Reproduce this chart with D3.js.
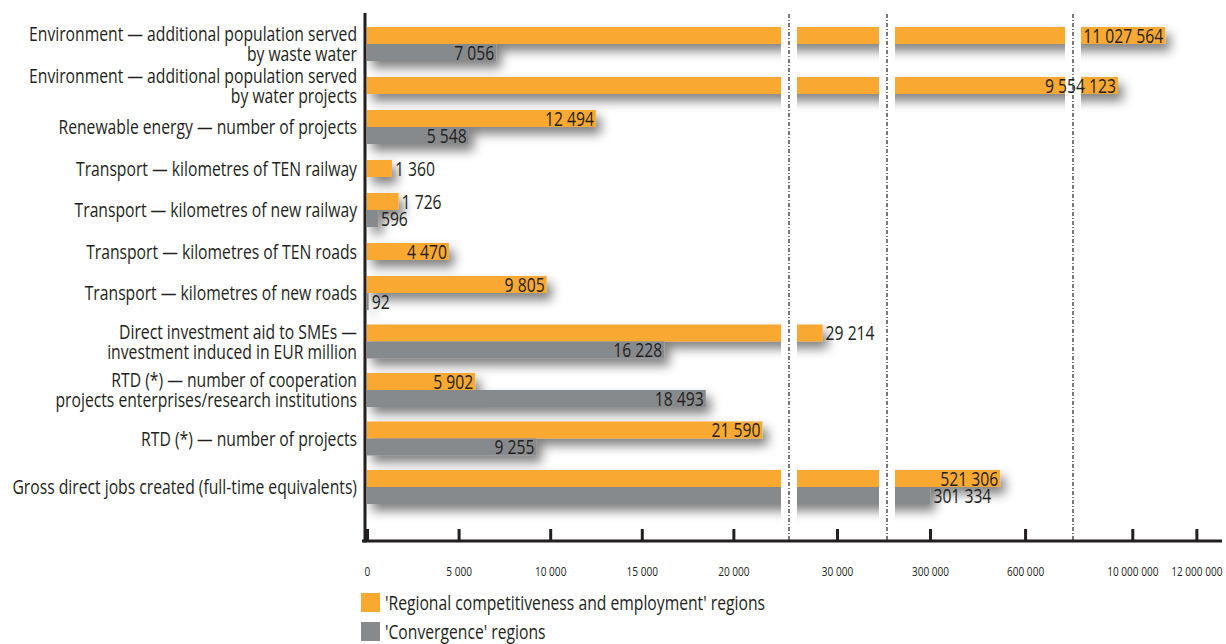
<!DOCTYPE html>
<html>
<head>
<meta charset="utf-8">
<script src="https://cdn.jsdelivr.net/npm/d3@7"></script>
<style>
  html, body { margin: 0; padding: 0; background: #fff; }
  svg { display: block; }
  text { font-family: "Open Sans", "Noto Sans", sans-serif; fill: #231f20; }
</style>
</head>
<body>
<svg id="chart" width="1226" height="644"></svg>
<script>
// ---------------- data ----------------
const categories = [
  "Environment — additional population served\nby waste water",
  "Environment — additional population served\nby water projects",
  "Renewable energy — number of projects",
  "Transport — kilometres of TEN railway",
  "Transport — kilometres of new railway",
  "Transport — kilometres of TEN roads",
  "Transport — kilometres of new roads",
  "Direct investment aid to SMEs —\ninvestment induced in EUR million",
  "RTD (*) — number of cooperation\nprojects enterprises/research institutions",
  "RTD (*) — number of projects",
  "Gross direct jobs created (full-time equivalents)"
];
const competitiveness = [11027564, 9554123, 12494, 1360, 1726, 4470, 9805, 29214, 5902, 21590, 521306];
const convergence     = [7056, null, 5548, null, 596, null, 92, 16228, 18493, 9255, 301334];
const seriesNames = ["'Regional competitiveness and employment' regions", "'Convergence' regions"];
const tickValues = [0, 5000, 10000, 15000, 20000, 30000, 300000, 600000, 10000000, 12000000];
// broken-axis segments (domain ends of each visible piece)
const axisBreaks = [0, 22600, 27814, 32295, 189600, 726000, 8400000, 12800000];

// ---------------- layout ----------------
const svg = d3.select("#chart");
const colors = ["#f9a932", "#878a8d"];
const fmt = d3.formatLocale({decimal: ".", thousands: " ", grouping: [3], currency: ["", ""]}).format(",d");
const fontSize = 19.5;

const x = d3.scaleLinear()
  .domain(axisBreaks)
  .range([367, 781, 797, 879, 895, 1065, 1081, 1222]);
const xr = x.range();
const y = d3.scaleLinear().domain([0, 6, 10]).range([44, 293, 487]);
const barH = 17;
const axisY = 541, axisX = 365;

// condensed look: measure the widest one-line label and squeeze to the reference width
const probe = svg.append("text").style("font-size", fontSize + "px").text(categories[10]);
const sx = 345 / probe.node().getComputedTextLength();
probe.remove();

// shadow filter
const defs = svg.append("defs");
const f = defs.append("filter").attr("id", "shadow")
  .attr("x", "-5%").attr("y", "-80%").attr("width", "120%").attr("height", "300%");
f.append("feGaussianBlur").attr("in", "SourceAlpha").attr("stdDeviation", 5.5).attr("result", "b");
f.append("feOffset").attr("in", "b").attr("dx", 5).attr("dy", 7).attr("result", "o");
f.append("feComponentTransfer").attr("in", "o").attr("result", "s")
  .append("feFuncA").attr("type", "linear").attr("slope", 0.5);
const fm = f.append("feMerge");
fm.append("feMergeNode").attr("in", "s");
fm.append("feMergeNode").attr("in", "SourceGraphic");

// bar records
const bars = [];
categories.forEach((c, i) => {
  const a = competitiveness[i], b = convergence[i];
  const pair = b !== null && b !== undefined;
  bars.push({i, s: 0, v: a, y0: pair ? y(i) - barH : y(i) - barH / 2});
  if (pair) bars.push({i, s: 1, v: b, y0: y(i)});
});

const gBars = svg.append("g").attr("filter", "url(#shadow)");
gBars.selectAll("rect").data(bars).join("rect")
  .attr("x", x(0))
  .attr("y", d => d.y0)
  .attr("width", d => x(d.v) - x(0))
  .attr("height", barH)
  .attr("fill", d => colors[d.s]);

// gaps of the broken axis
const gaps = [];
for (let k = 1; k + 1 < xr.length; k += 2) gaps.push([xr[k], xr[k + 1]]);
svg.append("g").selectAll("rect").data(gaps).join("rect")
  .attr("x", d => d[0]).attr("width", d => d[1] - d[0])
  .attr("y", 8).attr("height", 515).attr("fill", "#fff");
svg.append("g").selectAll("line").data(gaps).join("line")
  .attr("x1", d => (d[0] + d[1]) / 2).attr("x2", d => (d[0] + d[1]) / 2)
  .attr("y1", 14).attr("y2", axisY)
  .attr("stroke", "#333").attr("stroke-width", 1.3)
  .attr("stroke-dasharray", "4,2,1,2");

// helper: condensed text anchored at (ax, ay)
function ctext(parent, ax, ay, str, anchor, size) {
  const g = parent.append("g").attr("transform", `translate(${ax},${ay}) scale(${sx},1)`);
  return g.append("text").attr("text-anchor", anchor).attr("dy", "0.36em")
    .style("font-size", (size || fontSize) + "px").text(str);
}

// value labels
const gLab = svg.append("g");
bars.forEach(d => {
  const end = x(d.v);
  let segStart = xr[0], segIdx = 0;
  for (let k = 0; k < xr.length; k += 2) if (end >= xr[k]) { segStart = xr[k]; segIdx = k; }
  const probeT = ctext(gLab, 0, 0, fmt(d.v), "start");
  const w = probeT.node().getComputedTextLength() * sx;
  probeT.node().parentNode.remove();
  const lastSeg = segIdx === xr.length - 2;
  if (end - segStart >= w + 4 || lastSeg) {
    ctext(gLab, end - 2, d.y0 + barH / 2, fmt(d.v), "end");
  } else {
    ctext(gLab, end + 3, d.y0 + barH / 2, fmt(d.v), "start");
  }
});

// category labels
const gCat = svg.append("g");
categories.forEach((c, i) => {
  const lines = c.split("\n");
  lines.forEach((ln, j) => {
    ctext(gCat, 357, y(i) + (j - (lines.length - 1) / 2) * 20, ln, "end");
  });
});

// axes lines
svg.append("line").attr("x1", axisX).attr("x2", axisX).attr("y1", 13).attr("y2", axisY + 1.5)
  .attr("stroke", "#231f20").attr("stroke-width", 3);
svg.append("line").attr("x1", axisX - 3).attr("x2", 1222).attr("y1", axisY).attr("y2", axisY)
  .attr("stroke", "#231f20").attr("stroke-width", 3);

const gAxis = svg.append("g").attr("transform", `translate(0,${axisY})`)
  .call(d3.axisBottom(x).tickValues(tickValues).tickFormat(fmt)
    .tickSizeInner(-12).tickSizeOuter(0).tickPadding(26));
gAxis.select(".domain").remove();
gAxis.selectAll(".tick line").attr("stroke", "#231f20").attr("stroke-width", 3);
gAxis.selectAll(".tick text")
  .style("font-size", "12.5px").style("font-family", "'Open Sans', sans-serif")
  .attr("fill", "#231f20").attr("transform", `scale(${sx},1)`);

// legend
const lg = svg.append("g").attr("transform", "translate(361,593)");
seriesNames.forEach((n, k) => {
  const g = lg.append("g").attr("transform", `translate(0,${k * 29})`);
  g.append("rect").attr("width", 19).attr("height", 19).attr("fill", colors[k]);
  ctext(g, 24, 10, n, "start");
});
</script>
</body>
</html>
